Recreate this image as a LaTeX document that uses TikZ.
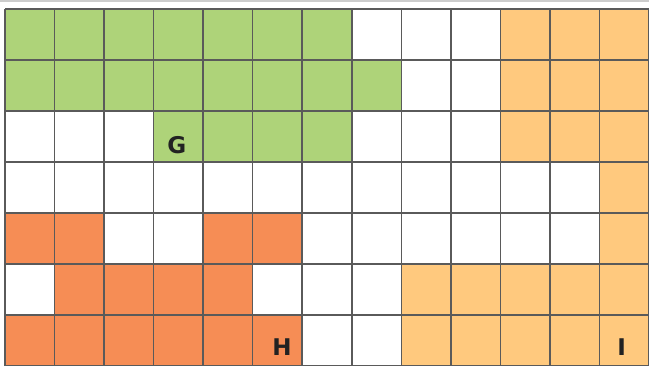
\documentclass[tikz,border=0pt]{standalone}
\usepackage{fontspec}
\setmainfont{DejaVu Sans}
\definecolor{cellgreen}{HTML}{AED379}
\definecolor{celllight}{HTML}{FFC97E}
\definecolor{celldark}{HTML}{F68D55}
\definecolor{gridline}{HTML}{5A5A5A}
\definecolor{lettercol}{HTML}{222222}
\tikzset{
  gridrule/.style={draw=gridline, line width=1.5pt},
  cellletter/.style={text=lettercol, font=\fontsize{23}{23}\selectfont\bfseries, inner sep=0pt}
}
\begin{document}
\begin{tikzpicture}[x=1pt,y=-1pt]
\useasboundingbox (0,0) rectangle (649,365);
\fill[white] (0,0) rectangle (649,365);
\draw[black!20, line width=1.2pt] (0,1) -- (649,1);
\begin{scope}[shift={(5,9)}, x=49.54pt, y=-51pt]
  % green
  \foreach \c/\r in {0/0,1/0,2/0,3/0,4/0,5/0,6/0,
                     0/1,1/1,2/1,3/1,4/1,5/1,6/1,7/1,
                     3/2,4/2,5/2,6/2}
    \fill[cellgreen] (\c,\r) rectangle ++(1,1);
  % light orange
  \foreach \c/\r in {10/0,11/0,12/0,10/1,11/1,12/1,10/2,11/2,12/2,
                     12/3,12/4,
                     8/5,9/5,10/5,11/5,12/5,
                     8/6,9/6,10/6,11/6,12/6}
    \fill[celllight] (\c,\r) rectangle ++(1,1);
  % dark orange
  \foreach \c/\r in {0/4,1/4,4/4,5/4,
                     1/5,2/5,3/5,4/5,
                     0/6,1/6,2/6,3/6,4/6,5/6}
    \fill[celldark] (\c,\r) rectangle ++(1,1);
  % grid lines
  \foreach \i in {0,...,13}
    \draw[gridrule] (\i,0) -- (\i,7.2);
  \foreach \j in {0,...,7}
    \draw[gridrule] (0,\j) -- (13.2,\j);
  % letters
  \node[cellletter] (G) at (3.47,2.67) {G};
  \node[cellletter] (H) at (5.59,6.63) {H};
  \node[cellletter] (I) at (12.45,6.63) {I};
\end{scope}
\end{tikzpicture}
\end{document}
